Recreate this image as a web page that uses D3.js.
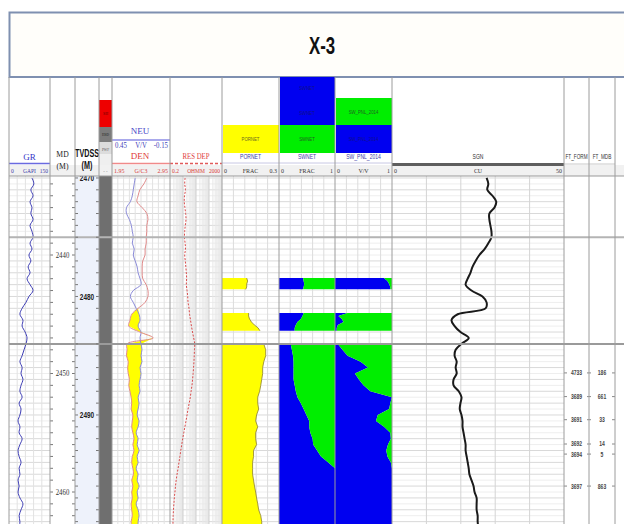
<!DOCTYPE html>
<html>
<head>
<meta charset="utf-8">
<script src="https://cdn.jsdelivr.net/npm/d3@7"></script>
<style>
  body { margin: 0; background: #fff; }
  svg { display: block; }
</style>
</head>
<body>
<svg id="chart" width="624" height="524"></svg>
<script>
// ---------------- well data (MD in metres) ----------------
const WELL_NAME = "X-3";
const LOG_TOP_MD = 2433.5;      // first sample of the continuous logs
const LOG_STEP = 0.5;           // sample interval, m
const TVDSS_SHIFT = 36.5;       // TVDSS = MD + shift over this interval

const GR = [84,91,80,88,77,84,80,88,77,84,88,77,84,73,80,70,77,66,77,88,
            73,62,48,40,51,48,59,66,62,55,48,40,48,44,51,44,40,48,37,44,
            40,33,40,37,48,40,33,37,44,37,40,33,37,33,40,51,44,37,40,37];
const NEU = [0.21,0.22,0.23,0.24,0.26,0.30,0.30,0.27,0.25,0.24,
             0.23,0.24,0.22,0.23,0.21,0.19,0.18,0.16,0.15,0.23,
             0.26,0.23,0.20,0.17,0.16,0.18,0.15,0.16,0.15,0.14,
             0.15,0.14,0.16,0.15,0.16,0.17,0.16,0.18,0.17,0.18,
             0.19,0.17,0.18,0.20,0.18,0.19,0.17,0.19,0.18,0.20,
             0.18,0.19,0.17,0.19,0.18,0.20,0.18,0.17,0.18,0.18];
const DEN = [2.55,2.50,2.43,2.40,2.38,2.47,2.55,2.57,2.55,2.55,
             2.54,2.54,2.52,2.52,2.48,2.47,2.47,2.48,2.54,2.57,
             2.57,2.52,2.40,2.29,2.26,2.24,2.43,2.66,2.21,2.21,
             2.20,2.23,2.22,2.23,2.25,2.24,2.26,2.28,2.29,2.28,
             2.31,2.30,2.29,2.31,2.33,2.31,2.33,2.30,2.29,2.31,
             2.32,2.29,2.31,2.29,2.30,2.28,2.29,2.30,2.28,2.29];
const RES_DEP = [2.9,2.7,3.1,2.6,2.5,2.8,3.2,3.4,3.0,2.7,
                 2.6,2.9,3.1,2.7,3.0,3.3,3.6,3.8,3.6,4.1,
                 4.6,4.9,5.8,6.4,7.6,8.9,10.8,13.2,16.0,15.2,
                 14.6,13.9,13.0,12.0,10.9,9.8,8.4,7.3,6.0,4.9,
                 4.1,3.4,2.8,2.3,1.9,1.6,1.35,1.15,0.98,0.84,
                 0.70,0.60,0.53,0.48,0.43,0.40,0.37,0.35,0.34,0.33];
const SGN = [27.5,28.0,27.7,29.2,30.3,29.8,28.3,28.3,28.6,28.9,
             28.9,28.0,26.9,25.4,24.3,23.4,22.8,22.0,21.4,23.1,
             26.3,27.5,27.2,19.1,17.3,18.2,19.9,22.3,20.2,18.5,
             18.2,18.8,18.5,18.8,17.9,17.9,19.4,20.2,19.9,19.7,
             20.2,20.5,20.5,20.8,21.1,21.4,21.4,21.7,22.0,22.3,
             22.5,23.1,23.7,24.0,24.6,24.6,24.6,24.9,24.9,25.1];

// Net-pay results: null marks intervals without a computed value
const NET_DEPTH = [2441.95,2442.2,2442.45,2442.7,2442.9, 2443.0,
                   2444.9,2445.15,2445.4,2445.65,2445.9,2446.15,2446.4, 2446.5,
                   2447.5,2448,2448.5,2449,2449.5,2450,2450.5,2451,2451.5,2452,
                   2452.5,2453,2453.5,2454,2454.5,2455,2455.5,2456,2456.5,2457,
                   2457.5,2458,2458.5,2459,2459.5,2460,2460.5,2461,2461.5,2462,
                   2462.5,2463];
const PORNET = [0.13,0.135,0.13,0.13,0.125, null,
                0.14,0.14,0.145,0.155,0.17,0.19,0.20, null,
                0.220,0.230,0.230,0.220,0.214,0.214,0.209,0.204,0.198,0.188,
                0.188,0.193,0.182,0.177,0.188,0.177,0.177,0.182,0.166,0.166,
                0.161,0.161,0.161,0.166,0.171,0.177,0.182,0.188,0.193,0.204,
                0.209,0.209];
const SWNET = [0.43,0.44,0.45,0.44,0.43, null,
               0.44,0.42,0.39,0.33,0.30,0.28,0.28, null,
               0.21,0.23,0.25,0.26,0.26,0.26,0.26,0.28,0.30,0.33,
               0.39,0.44,0.49,0.54,0.54,0.56,0.60,0.61,0.68,0.75,
               0.88,1,1,1,1,1,1,1,1,1,
               1,1];
const SW_PNL_2014 = [0.86,0.92,0.95,0.97,0.97, null,
                     0.22,0.06,0.12,0.15,0.05,0.03,0.03, null,
                     0.05,0.13,0.22,0.45,0.58,0.35,0.42,0.50,0.62,1,
                     0.97,0.95,0.75,0.72,0.86,0.97,0.98,0.93,0.90,0.92,
                     0.98,1,1,1,1,1,1,1,1,1,
                     1,1];

const MD_LABELS = [2440, 2450, 2460];
const TVDSS_LABELS = [2470, 2480, 2490];
const ZONE_TOPS_MD = [2438.5, 2447.5];

const FT_DEPTH = [2449.95, 2451.95, 2453.9, 2455.95, 2456.8, 2459.5];
const FT_FORM = ["4733", "3689", "3691", "3692", "3694", "3697"];
const FT_MDB = ["186", "661", "33", "14", "5", "863"];

// ---------------- layout ----------------
const svg = d3.select("#chart");
const LEFT = 9, RIGHT = 680;
const HEAD_TOP = 77, DATA_TOP = 176, DATA_BOTTOM = 524;
const T = {
  gr: [9, 50], md: [50, 75], tvd: [75, 99], lith: [99, 112], nd: [112, 170],
  res: [170, 222], por: [222, 279], swn: [279, 335], swp: [335, 392],
  sgn: [392, 564], ftf: [564, 589], ftm: [589, 615], ext: [615, 680]
};
const SERIF = "'Liberation Serif','Times New Roman',serif";
const SANS = "'Liberation Sans',Arial,sans-serif";
const SQUEEZE = 0.72;   // horizontal squeeze for the narrow sans captions

const y = d3.scaleLinear().domain([2440, 2460]).range([255, 492]);
const xGR = d3.scaleLinear().domain([0, 150]).range(T.gr);
const xNEU = d3.scaleLinear().domain([0.45, -0.15]).range(T.nd);
const xDEN = d3.scaleLinear().domain([1.95, 2.95]).range(T.nd);
const xRES = d3.scaleLog().domain([0.2, 2000]).range(T.res);
const xPOR = d3.scaleLinear().domain([0, 0.3]).range(T.por);
const xSWN = d3.scaleLinear().domain([0, 1]).range(T.swn);
const xSWP = d3.scaleLinear().domain([0, 1]).range(T.swp);
const xSGN = d3.scaleLinear().domain([0, 50]).range(T.sgn);

const logDepth = GR.map((_, i) => LOG_TOP_MD + i * LOG_STEP);
const logs = logDepth.map((md, i) => ({
  md, gr: GR[i], neu: NEU[i], den: DEN[i], res: RES_DEP[i], sgn: SGN[i]
}));
const net = NET_DEPTH.map((md, i) => ({
  md, por: PORNET[i], swn: SWNET[i], swp: SW_PNL_2014[i]
}));

const defs = svg.append("defs");
defs.append("clipPath").attr("id", "dataClip")
  .append("rect").attr("x", LEFT).attr("y", DATA_TOP)
  .attr("width", RIGHT - LEFT).attr("height", DATA_BOTTOM - DATA_TOP);

// ---------------- title ----------------
svg.append("rect").attr("x", LEFT + 0.5).attr("y", 12.5)
  .attr("width", RIGHT).attr("height", HEAD_TOP - 12.5)
  .attr("fill", "#fffefa").attr("stroke", "#7f90b0").attr("stroke-width", 2);
svg.append("text").attr("transform", `translate(322,54) scale(0.7,1)`)
  .attr("text-anchor", "middle").attr("font-family", SANS)
  .attr("font-weight", "bold").attr("font-size", 24).attr("fill", "#111")
  .text(WELL_NAME);

// ---------------- data area ----------------
const data = svg.append("g").attr("clip-path", "url(#dataClip)");

// column backgrounds
data.append("rect").attr("x", T.tvd[0]).attr("y", DATA_TOP)
  .attr("width", T.tvd[1] - T.tvd[0]).attr("height", DATA_BOTTOM - DATA_TOP)
  .attr("fill", "#eef2fb");
data.append("rect").attr("x", T.lith[0]).attr("y", DATA_TOP)
  .attr("width", T.lith[1] - T.lith[0]).attr("height", DATA_BOTTOM - DATA_TOP)
  .attr("fill", "#6f6f6f");

// horizontal grid, every metre of TVDSS (plus faint half metres)
const gridTracks = [T.gr, T.nd, T.res, T.por, T.swn, T.swp, T.sgn];
const tvdTop = LOG_TOP_MD + TVDSS_SHIFT - 1, tvdBot = 2463 + TVDSS_SHIFT + 1;
const halfM = d3.range(Math.ceil(tvdTop), tvdBot, 0.5);
gridTracks.forEach(([a, b]) => {
  data.append("g").selectAll("line").data(halfM).join("line")
    .attr("x1", a).attr("x2", b)
    .attr("y1", d => y(d - TVDSS_SHIFT)).attr("y2", d => y(d - TVDSS_SHIFT))
    .attr("stroke", d => Number.isInteger(d) ? "#d9d9d9" : "#eeeeee")
    .attr("stroke-width", 1);
});

// vertical grid
function vGrid(scaleRange, n, color) {
  const [a, b] = scaleRange;
  data.append("g").selectAll("line").data(d3.range(1, n)).join("line")
    .attr("x1", i => a + i * (b - a) / n).attr("x2", i => a + i * (b - a) / n)
    .attr("y1", DATA_TOP).attr("y2", DATA_BOTTOM)
    .attr("stroke", color).attr("stroke-width", 1);
}
vGrid(T.gr, 5, "#e2e2e2");
vGrid(T.nd, 10, "#e2e2e2");
vGrid(T.por, 5, "#dcdcdc");
vGrid(T.swn, 5, "#dcdcdc");
vGrid(T.swp, 5, "#dcdcdc");
vGrid(T.sgn, 5, "#d4d4d4");
// logarithmic grid for resistivity
const resLines = [];
[0.2, 2, 20, 200].forEach(dec => d3.range(2, 10).forEach(k => resLines.push(dec * k)));
data.append("g").selectAll("line").data(resLines).join("line")
  .attr("x1", d => xRES(d)).attr("x2", d => xRES(d))
  .attr("y1", DATA_TOP).attr("y2", DATA_BOTTOM)
  .attr("stroke", "#e6e6e6").attr("stroke-width", 1);
data.append("g").selectAll("line").data([2, 20, 200]).join("line")
  .attr("x1", d => xRES(d)).attr("x2", d => xRES(d))
  .attr("y1", DATA_TOP).attr("y2", DATA_BOTTOM)
  .attr("stroke", "#cfcfcf").attr("stroke-width", 1);

// neutron-density crossover shading
data.append("path").datum(logs)
  .attr("d", d3.area()
    .y(d => y(d.md))
    .x0(d => xDEN(d.den))
    .x1(d => Math.max(xDEN(d.den), xNEU(d.neu)))
    .curve(d3.curveLinear))
  .attr("fill", "#ffff00");

// net pay fills
const defNet = d => d.por != null;
data.append("path").datum(net)
  .attr("d", d3.area().defined(defNet).y(d => y(d.md))
    .x0(xPOR(0)).x1(d => xPOR(d.por)))
  .attr("fill", "#ffff00");
data.append("path").datum(net)
  .attr("d", d3.line().defined(defNet).y(d => y(d.md)).x(d => xPOR(d.por)))
  .attr("fill", "none").attr("stroke", "#8c7f30").attr("stroke-width", 0.8);

[[xSWN, "swn"], [xSWP, "swp"]].forEach(([xs, key]) => {
  data.append("path").datum(net)
    .attr("d", d3.area().defined(defNet).y(d => y(d.md))
      .x0(xs(0)).x1(d => xs(d[key])))
    .attr("fill", "#0000f0");
  data.append("path").datum(net)
    .attr("d", d3.area().defined(defNet).y(d => y(d.md))
      .x0(d => xs(d[key])).x1(xs(1)))
    .attr("fill", "#00ee00");
});

// curves
const curveLine = (xs, key) => d3.line()
  .y(d => y(d.md)).x(d => xs(d[key])).curve(d3.curveCatmullRom.alpha(0.5));
data.append("path").datum(logs).attr("d", curveLine(xGR, "gr"))
  .attr("fill", "none").attr("stroke", "#3c3cb4").attr("stroke-width", 1);
data.append("path").datum(logs).attr("d", curveLine(xNEU, "neu"))
  .attr("fill", "none").attr("stroke", "#8a8ad8").attr("stroke-width", 1);
data.append("path").datum(logs).attr("d", curveLine(xDEN, "den"))
  .attr("fill", "none").attr("stroke", "#e08a8a").attr("stroke-width", 1);
data.append("path").datum(logs).attr("d", curveLine(xRES, "res"))
  .attr("fill", "none").attr("stroke", "#d84848").attr("stroke-width", 1)
  .attr("stroke-dasharray", "2,1.5");
data.append("path").datum(logs).attr("d", curveLine(xSGN, "sgn"))
  .attr("fill", "none").attr("stroke", "#1a1a1a").attr("stroke-width", 2);

// zone tops
data.append("g").selectAll("line").data(ZONE_TOPS_MD).join("line")
  .attr("x1", LEFT).attr("x2", RIGHT)
  .attr("y1", d => y(d)).attr("y2", d => y(d))
  .attr("stroke", (d, i) => i ? "#9a9a9a" : "#b4b4b4").attr("stroke-width", 2);

// depth ticks and labels
const mdTicks = d3.range(2434, 2463);
data.append("g").selectAll("path").data(mdTicks).join("path")
  .attr("d", d => `M${T.md[0]},${y(d)}h3M${T.md[1]},${y(d)}h-3`)
  .attr("stroke", "#777").attr("stroke-width", 1);
data.append("g").selectAll("text").data(MD_LABELS).join("text")
  .attr("transform", d => `translate(${(T.md[0] + T.md[1]) / 2},${y(d)}) scale(0.85,1)`)
  .attr("dy", "0.35em").attr("text-anchor", "middle")
  .attr("font-family", SERIF).attr("font-size", 8).attr("fill", "#333")
  .text(d => d);
const tvdTicks = d3.range(2470, 2500);
data.append("g").selectAll("path").data(tvdTicks).join("path")
  .attr("d", d => `M${T.tvd[0]},${y(d - TVDSS_SHIFT)}h3M${T.tvd[1]},${y(d - TVDSS_SHIFT)}h-3`)
  .attr("stroke", "#777").attr("stroke-width", 1);
data.append("g").selectAll("text").data(TVDSS_LABELS).join("text")
  .attr("transform", d => `translate(${(T.tvd[0] + T.tvd[1]) / 2},${y(d - TVDSS_SHIFT)}) scale(${SQUEEZE},1)`)
  .attr("dy", "0.35em").attr("text-anchor", "middle")
  .attr("font-family", SANS).attr("font-weight", "bold")
  .attr("font-size", 9).attr("fill", "#222")
  .text(d => d);

// formation test points
const ftG = data.append("g");
ftG.selectAll("path").data(FT_DEPTH).join("path")
  .attr("d", d => `M${T.ftf[0]},${y(d)}h3M${T.ftm[0] - 2},${y(d)}h4M${T.ftm[1]},${y(d)}h-3`)
  .attr("stroke", "#888").attr("stroke-width", 1);
ftG.selectAll("text.f").data(FT_DEPTH).join("text").attr("class", "f")
  .attr("transform", d => `translate(${(T.ftf[0] + T.ftf[1]) / 2},${y(d)}) scale(${SQUEEZE},1)`)
  .attr("dy", "0.35em").attr("text-anchor", "middle").attr("font-family", SANS)
  .attr("font-weight", "bold").attr("font-size", 7).attr("fill", "#444")
  .text((d, i) => FT_FORM[i]);
ftG.selectAll("text.m").data(FT_DEPTH).join("text").attr("class", "m")
  .attr("transform", d => `translate(${(T.ftm[0] + T.ftm[1]) / 2},${y(d)}) scale(${SQUEEZE},1)`)
  .attr("dy", "0.35em").attr("text-anchor", "middle").attr("font-family", SANS)
  .attr("font-weight", "bold").attr("font-size", 7).attr("fill", "#444")
  .text((d, i) => FT_MDB[i]);

// ---------------- header ----------------
const head = svg.append("g");
function txt(x, yy, s, o = {}) {
  const sx = o.squeeze || 1;
  head.append("text").attr("transform", `translate(${x},${yy}) scale(${sx},1)`)
    .attr("text-anchor", o.anchor || "middle")
    .attr("font-family", o.font || SERIF)
    .attr("font-weight", o.bold ? "bold" : "normal")
    .attr("font-size", o.size || 7).attr("fill", o.color || "#333")
    .text(s);
}
function box(x0, x1, y0, y1, fill) {
  head.append("rect").attr("x", x0).attr("y", y0)
    .attr("width", x1 - x0).attr("height", y1 - y0).attr("fill", fill);
}
function hline(x0, x1, yy, color, w, dash) {
  head.append("line").attr("x1", x0).attr("x2", x1).attr("y1", yy).attr("y2", yy)
    .attr("stroke", color).attr("stroke-width", w)
    .attr("stroke-dasharray", dash || null);
}
function scaleRow(tr, l, mid, r, color, size) {
  const o = { color, size: size || 7, squeeze: 0.85 };
  txt(tr[0] + 2, 173, l, { ...o, anchor: "start" });
  txt((tr[0] + tr[1]) / 2, 173, mid, o);
  txt(tr[1] - 2, 173, r, { ...o, anchor: "end" });
}
// faint band behind scale captions
box(LEFT, RIGHT, 165, DATA_TOP, "#f1f1f1");

// GR
txt(29.5, 160, "GR", { size: 9, color: "#3535c8" });
hline(T.gr[0], T.gr[1], 163.5, "#6a6ae0", 1.5);
scaleRow(T.gr, "0", "GAPI", "150", "#3a3aa8", 6.5);
// MD / TVDSS
txt(62.5, 157, "MD", { size: 9, color: "#222", squeeze: 0.85 });
txt(62.5, 169, "(M)", { size: 9, color: "#222", squeeze: 0.85 });
txt(87, 157, "TVDSS", { size: 10, bold: true, font: SANS, color: "#111", squeeze: SQUEEZE });
txt(87, 169, "(M)", { size: 10, bold: true, font: SANS, color: "#111", squeeze: SQUEEZE });
// lithology flags
box(T.lith[0], T.lith[1], 100, 127, "#ee0000");
box(T.lith[0], T.lith[1], 127, 142, "#7c7c7c");
box(T.lith[0], T.lith[1], 142, 154, "#dcdcdc");
box(T.lith[0], T.lith[1], 154, 165, "#efefef");
txt(105.5, 115, "SH", { size: 4, color: "#600" });
txt(105.5, 135.5, "HSD", { size: 3.5, color: "#222" });
txt(105.5, 150.5, "PWF", { size: 3.5, color: "#555" });
txt(105.5, 173, "- -", { size: 5, color: "#666" });
// neutron / density
txt(140, 134, "NEU", { size: 9, color: "#4848c8" });
hline(T.nd[0], T.nd[1], 140, "#8c8ce6", 1.5);
txt(115, 148, "0.45", { anchor: "start", size: 8, color: "#4040b8", squeeze: 0.85 });
txt(141, 148, "V/V", { size: 8, color: "#4040b8", squeeze: 0.85 });
txt(168, 148, "-0.15", { anchor: "end", size: 8, color: "#4040b8", squeeze: 0.85 });
txt(140, 159, "DEN", { size: 9, color: "#e03a3a" });
hline(T.nd[0], T.nd[1], 163.5, "#f08a8a", 1.5);
scaleRow(T.nd, "1.95", "G/C3", "2.95", "#d83a3a");
// resistivity
txt(196, 159, "RES DEP", { size: 8, color: "#e03a3a", squeeze: 0.85 });
hline(T.res[0], T.res[1], 163.5, "#e05a5a", 1.5, "3,2");
scaleRow(T.res, "0.2", "OHMM", "2000", "#d83a3a", 6.5);
// net pay tracks
box(T.por[0] + 1, T.por[1], 125, 153, "#ffff00");
txt(250.5, 141, "PORNET", { size: 6, font: SANS, color: "#6a6a20", squeeze: SQUEEZE });
txt(250.5, 159, "PORNET", { size: 7, font: SANS, color: "#3a3aa8", squeeze: SQUEEZE });
hline(T.por[0], T.por[1], 163, "#c8c8e4", 1);
scaleRow(T.por, "0", "FRAC", "0.3", "#333");

box(T.swn[0] + 1, T.swn[1], HEAD_TOP, 125, "#0000f0");
box(T.swn[0] + 1, T.swn[1], 125, 153, "#00ee00");
txt(307, 90, "SWNET", { size: 6, font: SANS, color: "#10108a", squeeze: SQUEEZE });
txt(307, 115, "SWNET", { size: 6, font: SANS, color: "#10108a", squeeze: SQUEEZE });
txt(307, 141, "SWNET", { size: 6, font: SANS, color: "#206020", squeeze: SQUEEZE });
txt(307, 159, "SWNET", { size: 7, font: SANS, color: "#3a3aa8", squeeze: SQUEEZE });
hline(T.swn[0], T.swn[1], 163, "#c8c8e4", 1);
scaleRow(T.swn, "0", "FRAC", "1", "#333");

box(T.swp[0] + 1, T.swp[1], 98, 125, "#00ee00");
box(T.swp[0] + 1, T.swp[1], 125, 153, "#0000f0");
txt(363.5, 114, "SW_PNL_2014", { size: 6, font: SANS, color: "#206020", squeeze: SQUEEZE });
txt(363.5, 141, "SW_PNL_2014", { size: 6, font: SANS, color: "#10108a", squeeze: SQUEEZE });
txt(363.5, 159, "SW_PNL_2014", { size: 7, font: SANS, color: "#3a3aa8", squeeze: SQUEEZE });
hline(T.swp[0], T.swp[1], 163, "#c8c8e4", 1);
scaleRow(T.swp, "0", "V/V", "1", "#333");
// sigma
txt(478, 159, "SGN", { size: 7, font: SANS, color: "#333", squeeze: SQUEEZE });
hline(T.sgn[0], T.sgn[1], 164.5, "#5e5e5e", 3);
scaleRow(T.sgn, "0", "CU", "50", "#333");
// formation tests
txt(576.5, 159, "FT_FORM", { size: 6.5, font: SANS, color: "#333", squeeze: SQUEEZE });
txt(602, 159, "FT_MDB", { size: 6.5, font: SANS, color: "#333", squeeze: SQUEEZE });
hline(T.ftf[0], T.ftm[1], 164, "#c8c8c8", 1);

// header / data separator and track borders
hline(LEFT, RIGHT, DATA_TOP, "#9a9a9a", 1.2);
const borders = [T.gr[0], T.md[0], T.tvd[0], T.lith[0], T.nd[0], T.res[0], T.por[0],
                 T.swn[0], T.swp[0], T.sgn[0], T.ftf[0], T.ftm[0], T.ext[0]];
svg.append("g").selectAll("line").data(borders).join("line")
  .attr("x1", d => d).attr("x2", d => d)
  .attr("y1", HEAD_TOP).attr("y2", DATA_BOTTOM)
  .attr("stroke", "#9c9c9c").attr("stroke-width", 1);
</script>
</body>
</html>
